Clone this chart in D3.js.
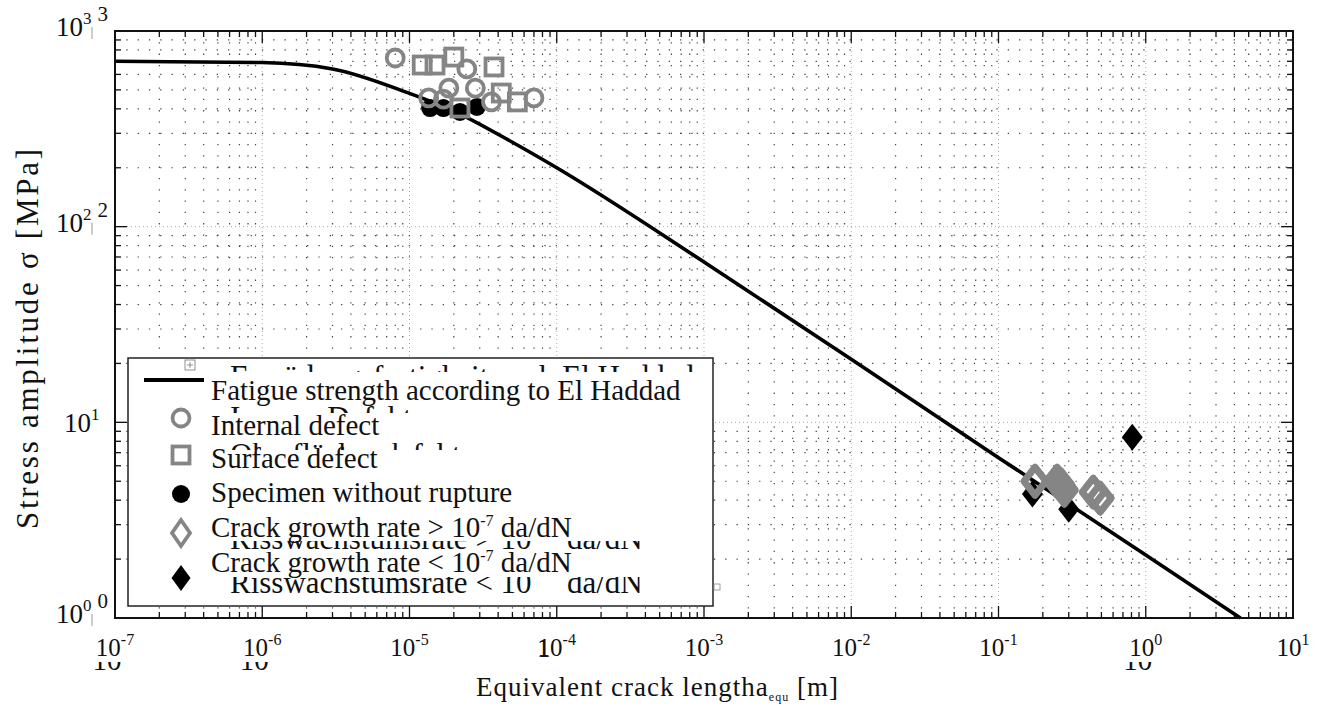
<!DOCTYPE html>
<html><head><meta charset="utf-8">
<script src="https://cdn.jsdelivr.net/npm/d3@7"></script>
<style>
body{margin:0;background:#fff;}
svg{display:block;font-family:"Liberation Serif","DejaVu Serif",serif;}
</style></head>
<body><svg id="chart" width="1323" height="706"></svg>
<script>
// ---- data ----
const xExponents = ["-7","-6","-5","-4","-3","-2","-1","0","1"];
const yExponents = ["0","1","2","3"];
// El Haddad fatigue strength curve (crack length [m], stress [MPa])
const curveA = [1e-7, 1e-6, 3e-6, 1e-5, 2e-5, 5e-5, 1e-4, 1e-3, 1e-2, 1e-1, 1, 4.4];
const curveS = [700, 690, 640, 480, 390, 270, 200, 66, 21, 6.6, 2.1, 1.0];
// Internal defect
const internalA = [8.0e-6, 2.45e-5, 1.85e-5, 2.8e-5, 1.35e-5, 1.7e-5, 3.6e-5, 7.0e-5];
const internalS = [728, 640, 511, 511, 455, 449, 434, 455];
// Surface defect
const surfaceA = [1.22e-5, 1.49e-5, 2.0e-5, 3.75e-5, 2.2e-5, 5.4e-5, 4.2e-5];
const surfaceS = [670, 670, 736, 655, 404, 434, 482];
// Specimen without rupture
const noRuptureA = [1.38e-5, 1.7e-5, 2.2e-5, 2.87e-5];
const noRuptureS = [404, 404, 386, 409];
// Crack growth rate > 1e-7 da/dN
const fastA = [0.177, 0.25, 0.265, 0.28, 0.44, 0.49];
const fastS = [5.0, 5.0, 4.8, 4.5, 4.4, 4.1];
// Crack growth rate < 1e-7 da/dN
const slowA = [0.17, 0.30, 0.81];
const slowS = [4.3, 3.6, 8.4];

const legendLabels = [
  "Fatigue strength according to El Haddad",
  "Internal defect",
  "Surface defect",
  "Specimen without rupture",
  "Crack growth rate > 10",
  "Crack growth rate < 10"
];
// original German legend texts that show through behind the English ones
const ghostLabels = [
  "Ermüdungsfestigkeit nach El Haddad",
  "Innerer Defekt",
  "Oberflächendefekt",
  "Risswachstumsrate > 10",
  "Risswachstumsrate < 10"
];

// ---- layout ----
const svg = d3.select("#chart");
const defs = svg.append("defs");
const L = 115, R = 1293, T = 31, B = 618;
const x = d3.scaleLog().domain([1e-7, 10]).range([L, R]);
const y = d3.scaleLog().domain([1, 1000]).range([B, T]);
const GRAY = "#858585";

const decadeTicks = sc => {
  const [a, b] = sc.domain().map(v => Math.round(Math.log10(v)));
  const out = [];
  for (let k = a; k < b; k++) for (let m = 1; m < 10; m++) out.push(m * Math.pow(10, k));
  out.push(Math.pow(10, b));
  return out;
};
const isMajor = v => Math.abs(Math.log10(v) - Math.round(Math.log10(v))) < 1e-9;
const xT = decadeTicks(x), yT = decadeTicks(y);

// grid
const grid = svg.append("g");
grid.selectAll("line.vx").data(xT.filter(v => v > 1e-7 && v < 10)).join("line")
  .attr("x1", d => x(d)).attr("x2", d => x(d)).attr("y1", T).attr("y2", B)
  .attr("stroke", d => isMajor(d) ? "#aaa" : "#444")
  .attr("stroke-width", d => isMajor(d) ? 1 : 1.2)
  .attr("stroke-dasharray", d => isMajor(d) ? "1,3" : "1.3,10");
grid.selectAll("line.hy").data(yT.filter(v => v > 1 && v < 1000)).join("line")
  .attr("y1", d => y(d)).attr("y2", d => y(d)).attr("x1", L).attr("x2", R)
  .attr("stroke", d => isMajor(d) ? "#aaa" : "#444")
  .attr("stroke-width", d => isMajor(d) ? 1 : 1.2)
  .attr("stroke-dasharray", d => isMajor(d) ? "1,3" : "1.3,10");

// ticks (inward on all four sides)
const tk = svg.append("g").attr("stroke", "#111").attr("stroke-width", 1.3);
xT.forEach(v => {
  const len = isMajor(v) ? 12 : 6;
  tk.append("line").attr("x1", x(v)).attr("x2", x(v)).attr("y1", B).attr("y2", B - len);
  tk.append("line").attr("x1", x(v)).attr("x2", x(v)).attr("y1", T).attr("y2", T + len);
});
yT.forEach(v => {
  const len = isMajor(v) ? 12 : 6;
  tk.append("line").attr("y1", y(v)).attr("y2", y(v)).attr("x1", L).attr("x2", L + len);
  tk.append("line").attr("y1", y(v)).attr("y2", y(v)).attr("x1", R).attr("x2", R - len);
});

// curve
const curvePts = curveA.map((a, i) => [a, curveS[i]]);
svg.append("path").datum(curvePts)
  .attr("d", d3.line().x(d => x(d[0])).y(d => y(d[1])).curve(d3.curveMonotoneX))
  .attr("fill", "none").attr("stroke", "#000").attr("stroke-width", 3.6);

// markers
const diamond = (cx, cy, w, h) => `M${cx},${cy - h}L${cx + w},${cy}L${cx},${cy + h}L${cx - w},${cy}Z`;
const mk = svg.append("g");
mk.selectAll("circle.nr").data(noRuptureA.map((a, i) => [a, noRuptureS[i]])).join("circle")
  .attr("cx", d => x(d[0])).attr("cy", d => y(d[1])).attr("r", 9).attr("fill", "#000");
mk.selectAll("rect.sf").data(surfaceA.map((a, i) => [a, surfaceS[i]])).join("rect")
  .attr("x", d => x(d[0]) - 8.5).attr("y", d => y(d[1]) - 8.5).attr("width", 17).attr("height", 17)
  .attr("fill", "none").attr("stroke", GRAY).attr("stroke-width", 3.8);
mk.selectAll("circle.in").data(internalA.map((a, i) => [a, internalS[i]])).join("circle")
  .attr("cx", d => x(d[0])).attr("cy", d => y(d[1])).attr("r", 8.5)
  .attr("fill", "none").attr("stroke", GRAY).attr("stroke-width", 3.8);
mk.selectAll("path.sl").data(slowA.map((a, i) => [a, slowS[i]])).join("path")
  .attr("d", d => diamond(x(d[0]), y(d[1]), 10.5, 13.5)).attr("fill", "#000");
mk.selectAll("path.fa").data(fastA.map((a, i) => [a, fastS[i]])).join("path")
  .attr("d", d => diamond(x(d[0]), y(d[1]), 11, 14))
  .attr("fill", "none").attr("stroke", GRAY).attr("stroke-width", 7).attr("stroke-linejoin", "round");

// frame
svg.append("rect").attr("x", L).attr("y", T).attr("width", R - L).attr("height", B - T)
  .attr("fill", "none").attr("stroke", "#111").attr("stroke-width", 2);

// clip helper for partly hidden ghost text
let clipId = 0;
const band = (y0, y1) => {
  const id = "cl" + (clipId++);
  defs.append("clipPath").attr("id", id).append("rect")
    .attr("x", 0).attr("y", y0).attr("width", 1323).attr("height", y1 - y0);
  return `url(#${id})`;
};

// x tick labels
const xl = svg.append("g").attr("fill", "#111");
xExponents.forEach(e => {
  const v = Math.pow(10, +e);
  const t = xl.append("text").attr("x", x(v)).attr("y", 656).attr("text-anchor", "middle").attr("font-size", 25);
  t.append("tspan").text("10");
  t.append("tspan").attr("font-size", 16).attr("dy", -11).text(e);
  if (e === "-7" || e === "-6" || e === "0") {
    xl.append("text").attr("x", x(v) - 8).attr("y", 670).attr("text-anchor", "middle")
      .attr("font-size", 29).attr("clip-path", band(662, 672)).text("10");
  }
  if (e === "-4") {
    xl.append("text").attr("x", x(v) - 13).attr("y", 657).attr("text-anchor", "middle")
      .attr("font-size", 27).text("1");
  }
});
// y tick labels
const yl = svg.append("g").attr("fill", "#111");
yExponents.forEach(e => {
  const v = Math.pow(10, +e);
  const t = yl.append("text").attr("x", e === "1" ? 64 : 56).attr("y", y(v) + (e === "1" ? 10 : 5)).attr("font-size", 27);
  t.append("tspan").text("10");
  t.append("tspan").attr("font-size", 17).attr("dy", -12).text(e);
  if (e !== "1") {
    t.append("tspan").attr("font-size", 21).attr("dx", 6).attr("dy", -3).text(e);
    yl.append("line").attr("x1", 92).attr("x2", 92).attr("y1", y(v) - 4).attr("y2", y(v) + 8)
      .attr("stroke", "#999").attr("stroke-width", 1);
  }
});

// axis titles
const xt = svg.append("text").attr("x", 476).attr("y", 696).attr("font-size", 27).attr("fill", "#111")
  .attr("textLength", 362).attr("lengthAdjust", "spacing");
xt.append("tspan").text("Equivalent crack length");
xt.append("tspan").text("a");
xt.append("tspan").attr("font-size", 12).attr("dy", 5).text("equ");
xt.append("tspan").attr("dy", -5).text(" [m]");
svg.append("text").attr("transform", "translate(38,339) rotate(-90)").attr("text-anchor", "middle")
  .attr("font-size", 31).attr("fill", "#111")
  .attr("textLength", 380).attr("lengthAdjust", "spacing")
  .text("Stress amplitude σ [MPa]");

// legend
const lg = svg.append("g");
lg.append("rect").attr("x", 128).attr("y", 358).attr("width", 585).attr("height", 248)
  .attr("fill", "#fff").attr("stroke", "#222").attr("stroke-width", 1.5);

// ghost German texts (mostly hidden)
const ghostBase = [387, 428, 465, 549, 593];
const ghostBand = [[364, 372], [405, 413], [443, 450], [541, 549], [577, 602]];
ghostLabels.forEach((s, i) => {
  const t = lg.append("text").attr("x", 230).attr("y", ghostBase[i]).attr("font-size", 31)
    .attr("fill", "#111").attr("clip-path", band(ghostBand[i][0], ghostBand[i][1]));
  t.append("tspan").text(s);
  if (i >= 3) t.append("tspan").attr("x", 567).text("da/dN");
});

// small handle icons
lg.append("rect").attr("x", 185).attr("y", 360).attr("width", 10).attr("height", 10)
  .attr("fill", "#fff").attr("stroke", "#777").attr("stroke-width", 0.8);
lg.append("path").attr("d", "M190,362V368M187,365H193").attr("stroke", "#777").attr("stroke-width", 0.8);
svg.append("rect").attr("x", 714).attr("y", 584).attr("width", 6).attr("height", 6)
  .attr("fill", "#fff").attr("stroke", "#888").attr("stroke-width", 0.8);

lg.append("line").attr("x1", 144).attr("x2", 204).attr("y1", 380).attr("y2", 380)
  .attr("stroke", "#000").attr("stroke-width", 3.8);
lg.append("circle").attr("cx", 181).attr("cy", 418).attr("r", 8.5).attr("fill", "none").attr("stroke", GRAY).attr("stroke-width", 3.8);
lg.append("rect").attr("x", 172.5).attr("y", 446.5).attr("width", 17).attr("height", 17).attr("fill", "none").attr("stroke", GRAY).attr("stroke-width", 3.8);
lg.append("circle").attr("cx", 181).attr("cy", 494).attr("r", 9).attr("fill", "#000");
lg.append("path").attr("d", diamond(181, 533, 9, 13)).attr("fill", "none").attr("stroke", GRAY).attr("stroke-width", 3.8);
lg.append("path").attr("d", diamond(181, 578, 9.5, 13)).attr("fill", "#000");

const baselines = [400, 435, 468, 502, 537, 572];
const lt = lg.append("g").attr("fill", "#111").attr("font-size", 29);
legendLabels.forEach((s, i) => {
  const t = lt.append("text").attr("x", 211).attr("y", baselines[i]);
  t.append("tspan").text(s);
  if (i >= 4) {
    t.append("tspan").attr("font-size", 16).attr("dy", -11).text("-7");
    t.append("tspan").attr("dy", 11).text(" da/dN");
  }
});
</script>
</body></html>
